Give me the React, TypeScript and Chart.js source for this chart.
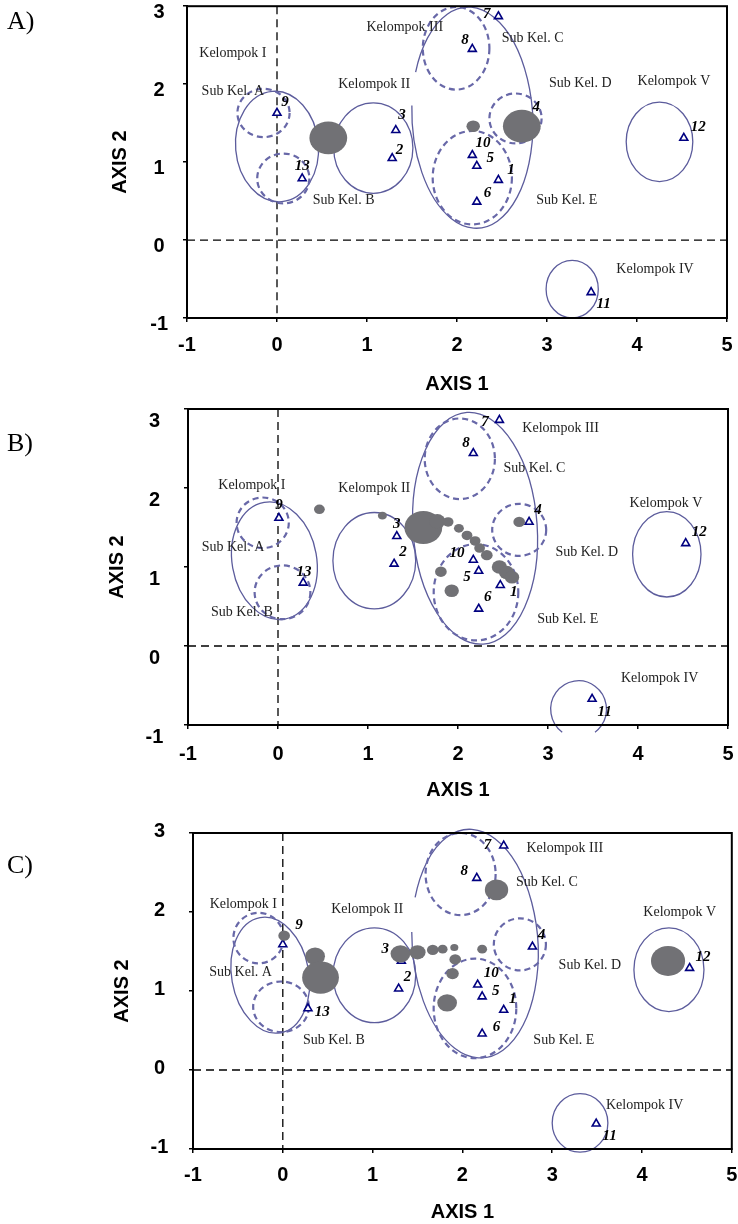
import React, { useEffect, useRef } from 'react';
import { Chart, registerables } from 'chart.js';

Chart.register(...registerables);

// ---------- DATA ----------
const accessions = ['1', '2', '3', '4', '5', '6', '7', '8', '9', '10', '11', '12', '13'];

// Panel A accession scores (AXIS 1, AXIS 2) and number-label anchors
const axis1A = [2.46, 1.28, 1.32, 2.79, 2.22, 2.22, 2.46, 2.17, 0.0, 2.17, 3.49, 4.52, 0.28];
const axis2A = [0.77, 1.05, 1.41, 1.57, 0.95, 0.49, 2.87, 2.45, 1.63, 1.09, -0.67, 1.31, 0.79];
const numXA = [2.6, 1.36, 1.39, 2.88, 2.37, 2.34, 2.33, 2.09, 0.09, 2.29, 3.63, 4.68, 0.28];
const numYA = [0.9, 1.16, 1.6, 1.71, 1.05, 0.6, 2.9, 2.56, 1.77, 1.24, -0.82, 1.45, 0.95];

// Panel B
const axis1B = [2.47, 1.29, 1.32, 2.79, 2.23, 2.23, 2.46, 2.17, 0.01, 2.17, 3.49, 4.53, 0.28];
const axis2B = [0.77, 1.04, 1.39, 1.57, 0.95, 0.47, 2.86, 2.44, 1.62, 1.09, -0.67, 1.3, 0.8];
const numXB = [2.62, 1.39, 1.32, 2.89, 2.1, 2.33, 2.3, 2.09, 0.01, 1.99, 3.63, 4.68, 0.29];
const numYB = [0.68, 1.19, 1.54, 1.72, 0.87, 0.62, 2.83, 2.57, 1.78, 1.18, -0.84, 1.44, 0.94];

// Panel C
const axis1C = [2.46, 1.29, 1.32, 2.78, 2.22, 2.22, 2.46, 2.16, 0.0, 2.17, 3.49, 4.53, 0.28];
const axis2C = [0.76, 1.03, 1.38, 1.56, 0.93, 0.46, 2.84, 2.43, 1.59, 1.08, -0.68, 1.29, 0.78];
const numXC = [2.56, 1.39, 1.14, 2.88, 2.37, 2.38, 2.28, 2.02, 0.18, 2.32, 3.64, 4.68, 0.44];
const numYC = [0.9, 1.17, 1.53, 1.71, 1.0, 0.54, 2.85, 2.52, 1.83, 1.23, -0.84, 1.43, 0.73];

// Group / sub-group boundaries (ellipses, in axis units)
const groupNames = ['Kelompok I', 'Kelompok II', 'Kelompok III', 'Kelompok IV', 'Kelompok V', 'Sub Kel. A', 'Sub Kel. B', 'Sub Kel. C', 'Sub Kel. D', 'Sub Kel. E'];

const ellCxA = [0.0, 1.07, 2.17, 3.28, 4.25, -0.15, 0.07, 1.99, 2.65, 2.17];
const ellCyA = [1.2, 1.18, 1.57, -0.63, 1.26, 1.63, 0.79, 2.46, 1.56, 0.8];
const ellRxA = [0.46, 0.44, 0.67, 0.29, 0.37, 0.29, 0.29, 0.37, 0.29, 0.44];
const ellRyA = [0.71, 0.58, 1.42, 0.37, 0.51, 0.31, 0.32, 0.53, 0.32, 0.6];
const ellTiltA = [-5, 0, -3, 0, 0, 0, 0, 0, 0, 0];
const ellGapA = [null, null, [154, 172], null, null, null, null, null, null, null];

const ellCxB = [-0.04, 1.07, 2.19, 3.34, 4.32, -0.17, 0.05, 2.02, 2.68, 2.2];
const ellCyB = [1.08, 1.08, 1.49, -0.8, 1.16, 1.56, 0.68, 2.37, 1.47, 0.68];
const ellRxB = [0.47, 0.46, 0.69, 0.31, 0.38, 0.29, 0.31, 0.39, 0.3, 0.47];
const ellRyB = [0.75, 0.61, 1.47, 0.36, 0.54, 0.32, 0.34, 0.51, 0.33, 0.61];
const ellTiltB = [-10, 0, -4, 0, 0, 0, 0, 0, 0, 0];
const ellGapB = [null, null, null, [234, 306], null, null, null, null, null, null];

const ellCxC = [-0.14, 1.02, 2.14, 3.31, 4.3, -0.27, -0.02, 1.98, 2.64, 2.14];
const ellCyC = [1.2, 1.2, 1.6, -0.67, 1.27, 1.67, 0.8, 2.48, 1.59, 0.78];
const ellRxC = [0.43, 0.46, 0.7, 0.31, 0.39, 0.28, 0.31, 0.39, 0.29, 0.46];
const ellRyC = [0.74, 0.6, 1.45, 0.37, 0.53, 0.32, 0.32, 0.52, 0.33, 0.63];
const ellTiltC = [-10, 0, -4, 0, 0, 0, 0, 0, 0, 0];
const ellGapC = [null, null, [154, 172], null, null, null, null, null, null, null];

// Grey bubbles (AXIS 1, AXIS 2, radius in axis units)
const blobXA = [0.57, 2.18, 2.72];
const blobYA = [1.31, 1.46, 1.46];
const blobRA = [0.21, 0.075, 0.21];

const blobXB = [0.46, 1.16, 1.615, 1.77, 1.89, 2.01, 2.1, 2.19, 2.24, 2.32, 2.46, 2.54, 2.6, 1.81, 1.93, 2.68];
const blobYB = [1.73, 1.65, 1.5, 1.58, 1.57, 1.49, 1.4, 1.33, 1.24, 1.15, 1.0, 0.93, 0.87, 0.94, 0.7, 1.57];
const blobRB = [0.06, 0.05, 0.21, 0.09, 0.06, 0.055, 0.06, 0.06, 0.06, 0.065, 0.085, 0.085, 0.08, 0.065, 0.08, 0.065];

const blobXC = [0.015, 0.36, 0.42, 1.31, 1.5, 1.67, 1.78, 1.91, 2.22, 1.92, 1.89, 1.83, 2.38, 4.29];
const blobYC = [1.7, 1.44, 1.17, 1.47, 1.49, 1.52, 1.53, 1.55, 1.53, 1.4, 1.22, 0.85, 2.28, 1.38];
const blobRC = [0.065, 0.11, 0.205, 0.11, 0.09, 0.065, 0.055, 0.045, 0.055, 0.065, 0.07, 0.11, 0.13, 0.19];

// Group text labels
const textNames = ['Kelompok I', 'Sub Kel. A', 'Sub Kel. B', 'Kelompok II', 'Kelompok III', 'Sub Kel. C', 'Sub Kel. D', 'Sub Kel. E', 'Kelompok IV', 'Kelompok V'];
const textXA = [-0.49, -0.49, 0.74, 1.08, 1.42, 2.84, 3.37, 3.22, 4.2, 4.41];
const textYA = [2.4, 1.91, 0.51, 2.0, 2.73, 2.59, 2.01, 0.51, -0.37, 2.04];
const textXB = [-0.29, -0.5, -0.4, 1.07, 3.14, 2.85, 3.43, 3.22, 4.24, 4.31];
const textYB = [2.03, 1.25, 0.43, 2.0, 2.76, 2.25, 1.19, 0.34, -0.41, 1.81];
const textXC = [-0.44, -0.47, 0.57, 0.94, 3.14, 2.94, 3.42, 3.13, 4.03, 4.42];
const textYC = [2.1, 1.24, 0.38, 2.04, 2.8, 2.37, 1.32, 0.38, -0.45, 1.99];

const xTicks = [-1, 0, 1, 2, 3, 4, 5];
const yTicks = [-1, 0, 1, 2, 3];
const panelLetters = ['A)', 'B)', 'C)'];

// ---------- LAYOUT ----------
const LAYOUT = [
  { top: 0, height: 400, yAxisW: 187, padTop: 6, padRight: 11, xAxisH: 82, yTickPad: 15, xTickPad: 11, yTitlePad: 108.7, xTitlePad: 4, labelOffset: 6, letterY: 21 },
  { top: 400, height: 410, yAxisW: 188, padTop: 9, padRight: 10, xAxisH: 85, yTickPad: 20.6, xTickPad: 13, yTitlePad: 105, xTitlePad: 8, labelOffset: 12, letterY: 443 },
  { top: 810, height: 414, yAxisW: 193, padTop: 23, padRight: 6, xAxisH: 75, yTickPad: 20.6, xTickPad: 10.5, yTitlePad: 110, xTitlePad: 0, labelOffset: -2, letterY: 865 },
];

const PANEL_DATA = [
  { ax1: axis1A, ax2: axis2A, nx: numXA, ny: numYA, ecx: ellCxA, ecy: ellCyA, erx: ellRxA, ery: ellRyA, et: ellTiltA, eg: ellGapA, bx: blobXA, by: blobYA, br: blobRA, tx: textXA, ty: textYA },
  { ax1: axis1B, ax2: axis2B, nx: numXB, ny: numYB, ecx: ellCxB, ecy: ellCyB, erx: ellRxB, ery: ellRyB, et: ellTiltB, eg: ellGapB, bx: blobXB, by: blobYB, br: blobRB, tx: textXB, ty: textYB },
  { ax1: axis1C, ax2: axis2C, nx: numXC, ny: numYC, ecx: ellCxC, ecy: ellCyC, erx: ellRxC, ery: ellRyC, et: ellTiltC, eg: ellGapC, bx: blobXC, by: blobYC, br: blobRC, tx: textXC, ty: textYC },
];

const SANS = 'Arial, "Liberation Sans", Helvetica, sans-serif';
const SERIF = '"Times New Roman", "Liberation Serif", Times, serif';

function makeOverlay(d: any) {
  return {
    id: 'overlay',
    beforeDatasetsDraw(chart: any) {
      const { ctx, chartArea, scales } = chart;
      const xs = scales.x, ys = scales.y;
      ctx.save();
      // zero reference lines
      ctx.strokeStyle = '#000';
      ctx.lineWidth = 1.3;
      ctx.setLineDash([8, 5]);
      const x0 = xs.getPixelForValue(0);
      const y0 = ys.getPixelForValue(0);
      ctx.beginPath();
      ctx.moveTo(x0, chartArea.top);
      ctx.lineTo(x0, chartArea.bottom);
      ctx.moveTo(chartArea.left, y0);
      ctx.lineTo(chartArea.right, y0);
      ctx.stroke();
      // ellipses
      for (let i = 0; i < groupNames.length; i++) {
        const dashed = groupNames[i].startsWith('Sub');
        const px = xs.getPixelForValue(d.ecx[i]);
        const py = ys.getPixelForValue(d.ecy[i]);
        const rpx = Math.abs(xs.getPixelForValue(d.ecx[i] + d.erx[i]) - px);
        const rpy = Math.abs(ys.getPixelForValue(d.ecy[i] + d.ery[i]) - py);
        const rot = (d.et[i] * Math.PI) / 180;
        ctx.setLineDash(dashed ? [6, 4] : []);
        ctx.lineWidth = dashed ? 2.2 : 1.3;
        ctx.strokeStyle = dashed ? '#6868a8' : '#5c5c9c';
        ctx.beginPath();
        const gap = d.eg[i];
        if (gap) {
          const a1 = (gap[0] * Math.PI) / 180, a2 = (gap[1] * Math.PI) / 180;
          ctx.ellipse(px, py, rpx, rpy, rot, -a1, -a2 + 2 * Math.PI, false);
        } else {
          ctx.ellipse(px, py, rpx, rpy, rot, 0, 2 * Math.PI);
        }
        ctx.stroke();
      }
      ctx.restore();
    },
    afterDatasetsDraw(chart: any) {
      const { ctx, scales } = chart;
      const xs = scales.x, ys = scales.y;
      ctx.save();
      // grey bubbles
      ctx.fillStyle = '#717175';
      for (let i = 0; i < d.bx.length; i++) {
        const px = xs.getPixelForValue(d.bx[i]);
        const py = ys.getPixelForValue(d.by[i]);
        const rpx = Math.abs(xs.getPixelForValue(d.bx[i] + d.br[i]) - px);
        const rpy = Math.abs(ys.getPixelForValue(d.by[i] + d.br[i]) - py);
        ctx.beginPath();
        ctx.ellipse(px, py, rpx, rpy, 0, 0, 2 * Math.PI);
        ctx.fill();
      }
      // group labels
      ctx.textAlign = 'center';
      ctx.textBaseline = 'middle';
      ctx.fillStyle = '#222';
      ctx.font = '14px ' + SERIF;
      for (let i = 0; i < textNames.length; i++) {
        ctx.fillText(textNames[i], xs.getPixelForValue(d.tx[i]), ys.getPixelForValue(d.ty[i]));
      }
      // accession numbers
      ctx.fillStyle = '#000';
      ctx.font = 'italic bold 15px ' + SERIF;
      for (let i = 0; i < accessions.length; i++) {
        ctx.fillText(accessions[i], xs.getPixelForValue(d.nx[i]), ys.getPixelForValue(d.ny[i]));
      }
      ctx.restore();
    },
    afterDraw(chart: any) {
      const { ctx, chartArea } = chart;
      ctx.save();
      ctx.strokeStyle = '#000';
      ctx.lineWidth = 2;
      ctx.strokeRect(chartArea.left, chartArea.top, chartArea.right - chartArea.left, chartArea.bottom - chartArea.top);
      ctx.restore();
    },
  };
}

function Panel({ index }: { index: number }) {
  const ref = useRef<HTMLCanvasElement | null>(null);
  const L = LAYOUT[index];
  const d = PANEL_DATA[index];
  useEffect(() => {
    if (!ref.current) return;
    const tickFont = { family: SANS, size: 20, weight: 'bold' as const };
    const chart = new Chart(ref.current, {
      type: 'scatter',
      data: {
        datasets: [
          {
            label: 'Aksesi',
            data: d.ax1.map((v: number, i: number) => ({ x: v, y: d.ax2[i] })),
            pointStyle: 'triangle',
            pointRadius: 4.6,
            pointBorderWidth: 1.6,
            borderColor: '#000080',
            backgroundColor: '#ffffff',
            clip: false as any,
          },
        ],
      },
      options: {
        animation: false,
        responsive: false,
        devicePixelRatio: 1,
        layout: { padding: { left: 0, top: L.padTop, right: L.padRight, bottom: 0 } },
        plugins: { legend: { display: false }, tooltip: { enabled: false } },
        scales: {
          x: {
            type: 'linear',
            min: -1,
            max: 5,
            afterBuildTicks: (s: any) => { s.ticks = xTicks.map((v) => ({ value: v })); },
            afterFit: (s: any) => { s.height = L.xAxisH; s.paddingLeft = 0; s.paddingRight = 0; },
            ticks: { stepSize: 1, color: '#000', font: tickFont, padding: L.xTickPad, maxRotation: 0 },
            grid: { drawOnChartArea: false, drawTicks: true, tickLength: 4, color: '#000', lineWidth: 1.5 },
            border: { display: true, color: '#000', width: 2 },
            title: { display: true, text: 'AXIS 1', color: '#000', font: tickFont, padding: { top: 0, bottom: L.xTitlePad } },
          },
          y: {
            type: 'linear',
            min: -1,
            max: 3,
            afterBuildTicks: (s: any) => { s.ticks = yTicks.map((v) => ({ value: v })); },
            afterFit: (s: any) => { s.width = L.yAxisW; s.paddingTop = 0; s.paddingBottom = 0; },
            ticks: { stepSize: 1, color: '#000', font: tickFont, padding: L.yTickPad, crossAlign: 'center', labelOffset: L.labelOffset },
            grid: { drawOnChartArea: false, drawTicks: true, tickLength: 4, color: '#000', lineWidth: 1.5 },
            border: { display: true, color: '#000', width: 2 },
            title: { display: true, text: 'AXIS 2', color: '#000', font: tickFont, padding: { top: L.yTitlePad, bottom: 0 } },
          },
        },
      },
      plugins: [makeOverlay(d)],
    } as any);
    return () => chart.destroy();
  }, [index]);
  return (
    <canvas
      ref={ref}
      width={738}
      height={L.height}
      style={{ position: 'absolute', left: 0, top: L.top, width: 738, height: L.height }}
    />
  );
}

export default function App() {
  return (
    <div style={{ position: 'absolute', left: 0, top: 0, width: 738, height: 1224, background: '#fff', overflow: 'hidden' }}>
      {LAYOUT.map((_, i) => (
        <Panel key={i} index={i} />
      ))}
      {LAYOUT.map((L, i) => (
        <div
          key={'l' + i}
          style={{ position: 'absolute', left: 7, top: L.letterY - 13, fontFamily: SERIF, fontSize: 26, lineHeight: '26px', color: '#000' }}
        >
          {panelLetters[i]}
        </div>
      ))}
    </div>
  );
}
